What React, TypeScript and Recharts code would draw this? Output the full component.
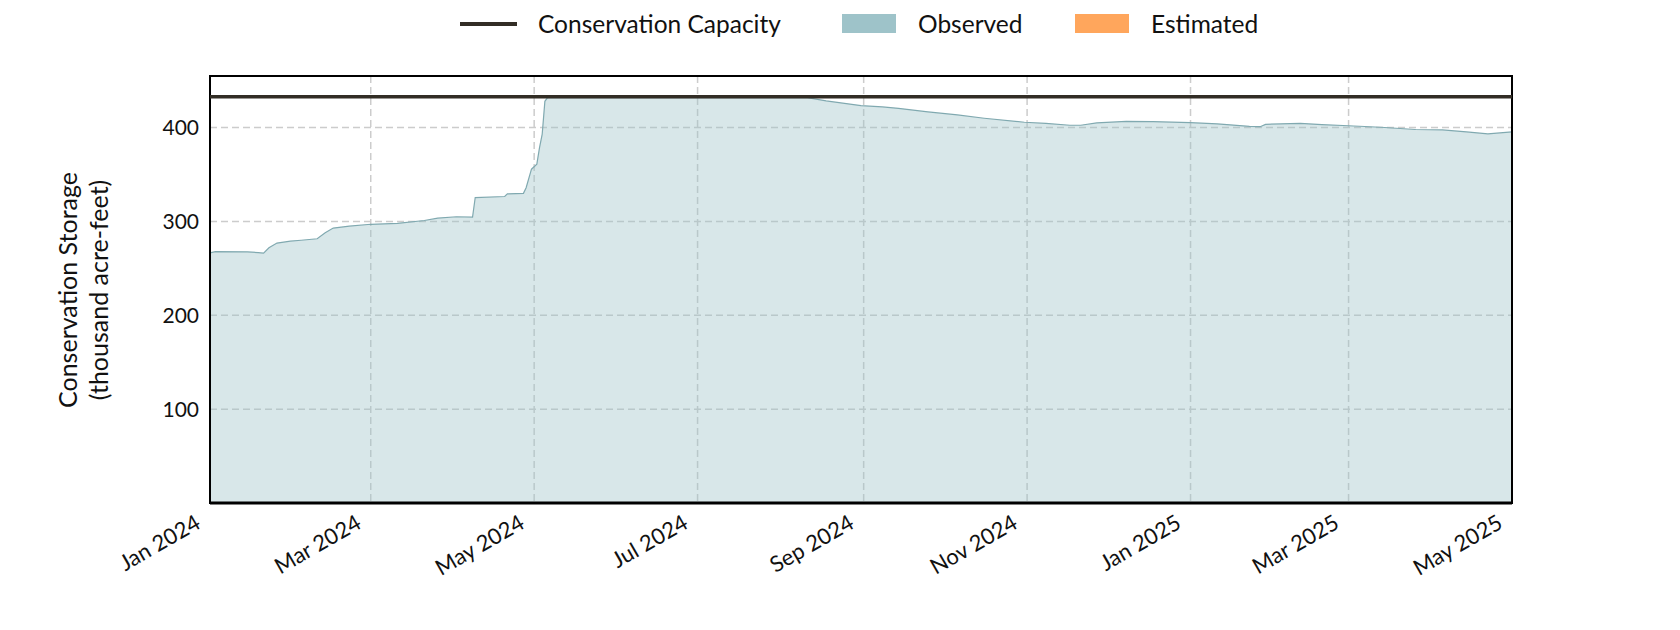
import React from "react";
import { AreaChart, Area, XAxis, YAxis, CartesianGrid, ReferenceLine, ReferenceArea } from "recharts";

const dates = [
  "2024-01-01", "2024-01-03", "2024-01-15", "2024-01-19", "2024-01-21", "2024-01-23", "2024-01-26",
  "2024-01-31", "2024-02-04", "2024-02-10", "2024-02-13", "2024-02-16", "2024-02-22", "2024-03-01",
  "2024-03-11", "2024-03-21", "2024-03-26", "2024-04-02", "2024-04-08", "2024-04-09", "2024-04-20",
  "2024-04-21", "2024-04-27", "2024-04-28", "2024-04-30", "2024-05-02", "2024-05-03", "2024-05-04",
  "2024-05-05", "2024-05-06", "2024-06-15", "2024-07-20", "2024-08-11", "2024-08-18", "2024-08-31",
  "2024-09-08", "2024-09-14", "2024-09-25", "2024-10-06", "2024-10-16", "2024-10-31", "2024-11-08",
  "2024-11-17", "2024-11-21", "2024-11-27", "2024-12-08", "2024-12-18", "2025-01-01", "2025-01-11",
  "2025-01-23", "2025-01-27", "2025-01-29", "2025-02-11", "2025-02-19", "2025-03-01", "2025-03-13",
  "2025-03-26", "2025-04-05", "2025-04-14", "2025-04-22", "2025-05-01",
];

const storage = [
  266.5, 267.8, 267.6, 266.8, 266.2, 272, 277,
  279, 280, 281.6, 288, 293, 295, 297,
  298, 301, 303.5, 305, 304.6, 325.5, 326.6,
  329.4, 330, 336, 355.7, 361, 378.7, 393,
  428, 432, 432, 432, 432, 428.4, 423.5,
  422, 420.6, 416.7, 413.5, 410, 405.7, 404.6,
  402.5, 402.5, 405, 406.7, 406.4, 405.3, 404,
  401.4, 401, 403.5, 404.6, 403.2, 402, 400.4,
  398, 397.5, 395.4, 393.3, 395.4,
];

const tickDates = [
  "2024-01-01", "2024-03-01", "2024-05-01", "2024-07-01", "2024-09-01",
  "2024-11-01", "2025-01-01", "2025-03-01", "2025-05-01",
];

const yTicks = [100, 200, 300, 400];
const capacity = 433;

const MONTHS = ["Jan", "Feb", "Mar", "Apr", "May", "Jun", "Jul", "Aug", "Sep", "Oct", "Nov", "Dec"];
const toT = (s: string) => Date.parse(s + "T00:00:00Z");

const data = dates.map((d, i) => ({ t: toT(d), observed: storage[i] }));
const xTicks = tickDates.map(toT);
const xMin = xTicks[0];
const xMax = xTicks[xTicks.length - 1];

const FONT = "Lato, 'Noto Sans', sans-serif";

function fmtMonth(t: number) {
  const d = new Date(t);
  return `${MONTHS[d.getUTCMonth()]} ${d.getUTCFullYear()}`;
}

function XTick(props: any) {
  const { x, y, payload } = props;
  const ax = x - 8;
  const ay = y + 16;
  return (
    <text
      x={ax}
      y={ay}
      transform={`rotate(-30, ${ax}, ${ay})`}
      textAnchor="end"
      fontSize={22}
      fontFamily={FONT}
      fill="#111"
    >
      {fmtMonth(payload.value)}
    </text>
  );
}

function YLabel() {
  const cy = 290;
  return (
    <g fontFamily={FONT} fontSize={25} fill="#111" textAnchor="middle">
      <text x={67} y={cy} transform={`rotate(-90, 67, ${cy})`} dominantBaseline="central">
        Conservation Storage
      </text>
      <text x={98} y={cy} transform={`rotate(-90, 98, ${cy})`} dominantBaseline="central">
        (thousand acre-feet)
      </text>
    </g>
  );
}

function LegendRow() {
  const text = { fontFamily: FONT, fontSize: 24.5, color: "#111", lineHeight: "26px" };
  return (
    <div style={{ position: "absolute", top: 11, left: 0, width: 1680, height: 26 }}>
      <div style={{ position: "absolute", left: 460, top: 11, width: 57, height: 3.5, background: "#322d25" }} />
      <div style={{ position: "absolute", left: 538, top: 0, ...text }}>Conservation Capacity</div>
      <div style={{ position: "absolute", left: 842, top: 3, width: 54, height: 19, background: "#9ec3c9" }} />
      <div style={{ position: "absolute", left: 918, top: 0, ...text }}>Observed</div>
      <div style={{ position: "absolute", left: 1075, top: 3, width: 54, height: 19, background: "#ffa65c" }} />
      <div style={{ position: "absolute", left: 1151, top: 0, ...text }}>Estimated</div>
    </div>
  );
}

export default function App() {
  return (
    <div style={{ position: "absolute", left: 0, top: 0, width: 1680, height: 630, background: "#fff" }}>
      <LegendRow />
      <AreaChart
        width={1680}
        height={630}
        data={data}
        margin={{ top: 76, right: 168, bottom: 27, left: 130 }}
        style={{ position: "absolute", left: 0, top: 0 }}
      >
        <CartesianGrid stroke="#cccccc" strokeWidth={1.5} strokeDasharray="7 4" />
        <XAxis
          dataKey="t"
          type="number"
          scale="time"
          domain={[xMin, xMax]}
          ticks={xTicks}
          tick={<XTick />}
          tickLine={false}
          axisLine={{ stroke: "#000", strokeWidth: 3 }}
          height={100}
          interval={0}
        />
        <YAxis
          type="number"
          domain={[0, 455]}
          ticks={yTicks}
          width={80}
          tickLine={false}
          tickSize={0}
          tickMargin={11}
          axisLine={false}
          tick={{ fontSize: 21, fontFamily: FONT, fill: "#111" }}
          allowDataOverflow
        />
        <Area
          type="linear"
          dataKey="observed"
          stroke="#80a9b0"
          strokeWidth={1.2}
          fill="#9ec3c9"
          fillOpacity={0.4}
          isAnimationActive={false}
          dot={false}
          activeDot={false}
        />
        <ReferenceLine y={capacity} stroke="#322d25" strokeWidth={3.5} />
        <ReferenceArea x1={xMin} x2={xMax} y1={0} y2={455} fill="none" stroke="#000" strokeWidth={2} />
        <YLabel />
      </AreaChart>
    </div>
  );
}
